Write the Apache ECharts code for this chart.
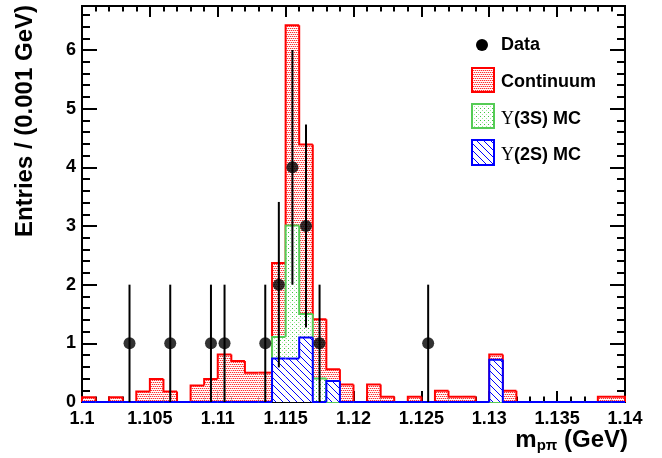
<!DOCTYPE html>
<html lang="en">
<head>
  <meta charset="UTF-8">
  <title>m_ppi</title>
  <style>
    html, body { margin: 0; padding: 0; background: #fff; }
    #chart { width: 662px; height: 458px; }
  </style>
</head>
<body>
<div id="chart"></div>
<script src="https://cdn.jsdelivr.net/npm/echarts@6/dist/echarts.min.js"></script>
<script>
// histogram binning (40 bins of 0.001 GeV)
const xMin = 1.1;
const xMax = 1.14;
const binWidth = 0.001;
const yMax = 6.75;

// bin contents
const continuum = [0.08, 0, 0.08, 0, 0.18, 0.39, 0.18, 0, 0.28, 0.39,
  0.81, 0.70, 0.50, 0.50, 2.37, 6.42, 4.39, 1.41, 0.56, 0.30,
  0, 0.30, 0.09, 0, 0.09, 0, 0.19, 0.09, 0.09, 0,
  0.81, 0.19, 0, 0, 0, 0, 0, 0, 0.09, 0.09];
const ups3S = [0, 0, 0, 0, 0, 0, 0, 0, 0, 0,
  0, 0, 0, 0, 1.11, 3.01, 1.50, 0.40, 0, 0,
  0, 0, 0, 0, 0, 0, 0, 0, 0, 0,
  0, 0, 0, 0, 0, 0, 0, 0, 0, 0];
const ups2S = [0, 0, 0, 0, 0, 0, 0, 0, 0, 0,
  0, 0, 0, 0, 0.74, 0.74, 1.10, 0, 0.36, 0,
  0, 0, 0, 0, 0, 0, 0, 0, 0, 0,
  0.72, 0, 0, 0, 0, 0, 0, 0, 0, 0];

// data points and their error bars
const dataX = [1.1035, 1.1065, 1.1095, 1.1105, 1.1135, 1.1145, 1.1155, 1.1165, 1.1175, 1.1255];
const dataY = [1, 1, 1, 1, 1, 2, 4, 3, 1, 1];
const dataErr = [1, 1, 1, 1, 1, 1.41, 2, 1.73, 1, 1];

const FONT = '"Liberation Sans", Arial, Helvetica, sans-serif';

function makePattern(size, draw) {
  const c = document.createElement('canvas');
  c.width = size;
  c.height = size;
  const ctx = c.getContext('2d');
  ctx.fillStyle = '#fff';
  ctx.fillRect(0, 0, size, size);
  draw(ctx);
  return { image: c, repeat: 'repeat' };
}

const redFill = makePattern(4, ctx => {
  ctx.fillStyle = '#ff3030';
  ctx.fillRect(0, 0, 1, 1);
  ctx.fillRect(2, 0, 1, 1);
  ctx.fillRect(1, 2, 1, 1);
  ctx.fillRect(3, 2, 1, 1);
  ctx.fillStyle = '#ffc4c4';
  ctx.fillRect(1, 0, 1, 1);
  ctx.fillRect(3, 0, 1, 1);
  ctx.fillRect(0, 2, 1, 1);
  ctx.fillRect(2, 2, 1, 1);
});
const greenFill = makePattern(4, ctx => {
  ctx.fillStyle = '#40c840';
  ctx.fillRect(0, 0, 1, 1);
  ctx.fillStyle = '#a0e8a0';
  ctx.fillRect(2, 2, 1, 1);
});
const blueFill = makePattern(7, ctx => {
  ctx.fillStyle = '#0000ff';
  for (let i = 0; i < 7; i++) ctx.fillRect(i, i, 1, 1);
});

function histData(vals) {
  return vals.map((h, i) => [xMin + i * binWidth, xMin + (i + 1) * binWidth, h,
    i ? vals[i - 1] : 0, i === vals.length - 1 ? 1 : 0]);
}

function histSeries(name, vals, fill, stroke) {
  return {
    name: name,
    type: 'custom',
    encode: { x: [0, 1], y: 2 },
    data: histData(vals),
    renderItem: (params, api) => {
      const lo = api.value(0), hi = api.value(1), h = api.value(2), hp = api.value(3);
      const a = api.coord([lo, 0]);
      const b = api.coord([hi, h]);
      const children = [];
      if (h > 0) {
        children.push({
          type: 'rect',
          shape: { x: a[0], y: b[1], width: b[0] - a[0], height: a[1] - b[1] },
          style: { fill: fill }
        });
      }
      const pts = [api.coord([lo, hp]), api.coord([lo, h]), api.coord([hi, h])];
      if (api.value(4)) pts.push(api.coord([hi, 0]));
      children.push({
        type: 'polyline',
        shape: { points: pts },
        style: { stroke: stroke, lineWidth: 2, fill: null }
      });
      return { type: 'group', children: children };
    }
  };
}

const tickStyle = { color: '#000', width: 2 };

function xAxisDef(pos, labels) {
  return {
    type: 'value', position: pos, min: xMin, max: xMax, interval: 0.005,
    axisLine: { onZero: false, lineStyle: tickStyle },
    axisTick: { inside: true, length: 11, lineStyle: tickStyle },
    minorTick: { show: true, splitNumber: 5, length: 5.5, lineStyle: tickStyle },
    splitLine: { show: false },
    axisLabel: {
      show: labels, margin: 8, color: '#000', fontFamily: FONT, fontWeight: 'bold', fontSize: 18,
      formatter: v => String(parseFloat(v.toFixed(3)))
    }
  };
}

function yAxisDef(pos, major) {
  return {
    type: 'value', position: pos, min: 0, max: yMax, interval: major ? 1 : 0.2,
    axisLine: { onZero: false, lineStyle: tickStyle },
    axisTick: { inside: true, length: major ? 15 : 8, lineStyle: tickStyle },
    splitLine: { show: false },
    axisLabel: {
      show: major && pos === 'left', showMaxLabel: false, margin: 6, color: '#000',
      fontFamily: FONT, fontWeight: 'bold', fontSize: 18,
      formatter: v => Number.isInteger(v) ? String(v) : ''
    }
  };
}

const chart = echarts.init(document.getElementById('chart'));
chart.setOption({
  animation: false,
  backgroundColor: '#fff',
  grid: { left: 82, right: 37, top: 6, bottom: 56 },
  xAxis: [xAxisDef('bottom', true), xAxisDef('top', false)],
  yAxis: [yAxisDef('left', true), yAxisDef('left', false), yAxisDef('right', true), yAxisDef('right', false)],
  series: [
    histSeries('Continuum', continuum, redFill, '#ff0000'),
    histSeries('Y(3S) MC', ups3S, greenFill, '#55cc55'),
    histSeries('Y(2S) MC', ups2S, blueFill, '#0000ff'),
    {
      name: 'Data errors',
      type: 'custom',
      encode: { x: 0, y: 1 },
      data: dataX.map((x, i) => [x, dataY[i], dataErr[i]]),
      renderItem: (params, api) => {
        const p1 = api.coord([api.value(0), api.value(1) - api.value(2)]);
        const p2 = api.coord([api.value(0), api.value(1) + api.value(2)]);
        return {
          type: 'line',
          shape: { x1: p1[0], y1: p1[1], x2: p2[0], y2: p2[1] },
          style: { stroke: '#000', lineWidth: 2 }
        };
      }
    },
    {
      name: 'Data',
      type: 'scatter',
      symbol: 'circle',
      symbolSize: 12,
      itemStyle: { color: '#000' },
      data: dataX.map((x, i) => [x, dataY[i]])
    }
  ],
  graphic: [
    {
      type: 'text', x: 25, y: 5, rotation: Math.PI / 2,
      style: { text: 'Entries / (0.001 GeV)', font: 'bold 24px ' + FONT, fill: '#000',
        align: 'right', verticalAlign: 'middle' }
    },
    {
      type: 'text', x: 628, y: 440,
      style: {
        text: '{a|m}{s|pπ}{a| (GeV)}', align: 'right', verticalAlign: 'middle', fill: '#000',
        rich: {
          a: { font: 'bold 24px ' + FONT, fill: '#000', lineHeight: 26 },
          s: { font: 'bold 15px ' + FONT, fill: '#000', lineHeight: 26, verticalAlign: 'bottom' }
        }
      }
    },
    // legend
    { type: 'circle', shape: { cx: 482, cy: 45, r: 6 }, style: { fill: '#000' } },
    { type: 'text', x: 501, y: 45, style: { text: 'Data', font: 'bold 18px ' + FONT, fill: '#000', verticalAlign: 'middle' } },
    { type: 'rect', shape: { x: 472, y: 68, width: 22, height: 24 }, style: { fill: redFill, stroke: '#ff0000', lineWidth: 2 } },
    { type: 'text', x: 501, y: 82, style: { text: 'Continuum', font: 'bold 18px ' + FONT, fill: '#000', verticalAlign: 'middle' } },
    { type: 'rect', shape: { x: 472, y: 104, width: 22, height: 24 }, style: { fill: greenFill, stroke: '#55cc55', lineWidth: 2 } },
    {
      type: 'text', x: 501, y: 119,
      style: { text: '{u|Υ}{b|(3S) MC}', verticalAlign: 'middle', fill: '#000',
        rich: { u: { font: '18px "Liberation Serif", serif', fill: '#000' }, b: { font: 'bold 18px ' + FONT, fill: '#000' } } }
    },
    { type: 'rect', shape: { x: 472, y: 140, width: 22, height: 25 }, style: { fill: blueFill, stroke: '#0000ff', lineWidth: 2 } },
    {
      type: 'text', x: 501, y: 155,
      style: { text: '{u|Υ}{b|(2S) MC}', verticalAlign: 'middle', fill: '#000',
        rich: { u: { font: '18px "Liberation Serif", serif', fill: '#000' }, b: { font: 'bold 18px ' + FONT, fill: '#000' } } }
    }
  ]
});
</script>
</body>
</html>
